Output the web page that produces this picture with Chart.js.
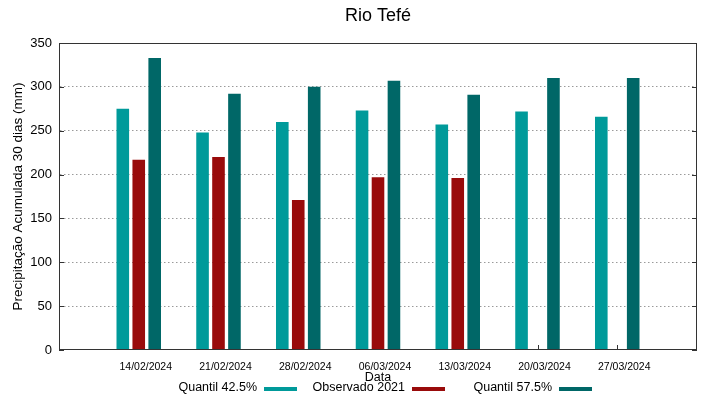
<!DOCTYPE html>
<html lang="pt">
<head>
    <meta charset="UTF-8">
    <title>Rio Tefé</title>
    <script src="https://cdn.jsdelivr.net/npm/chart.js"></script>
    <style>
        html, body { margin: 0; padding: 0; background: #fff; }
        #wrap { width: 719px; height: 399px; }
    </style>
</head>
<body>
<div id="wrap"><canvas id="rioChart" width="719" height="399"></canvas></div>
<script>
    // dados
    const dates = ["14/02/2024", "21/02/2024", "28/02/2024", "06/03/2024", "13/03/2024", "20/03/2024", "27/03/2024"];
    const quantil425 = [275, 248, 260, 273, 257, 272, 266];
    const observado2021 = [217, 220, 171, 197, 196, null, null];
    const quantil575 = [333, 292, 300, 307, 291, 310, 310];
    const yTicks = [0, 50, 100, 150, 200, 250, 300, 350];

    const seriesNames = ["Quantil 42.5%", "Observado 2021", "Quantil 57.5%"];
    const colors = ["#009a9a", "#990b0b", "#006767"];
    const FONT = "'Liberation Sans', Arial, sans-serif";

    // one empty slot on each side, like gnuplot's x range
    const pad = arr => [null, ...arr, null];
    const labels = ["", ...dates, ""];

    const extras = {
        id: "extras",
        beforeDatasetsDraw(chart) {
            // inward ticks, under the bars
            const ctx = chart.ctx;
            const a = chart.chartArea;
            const xs = chart.scales.x, ys = chart.scales.y;
            ctx.save();
            ctx.strokeStyle = "#333";
            ctx.lineWidth = 1;
            ctx.beginPath();
            yTicks.forEach(v => {
                const y = Math.round(ys.getPixelForValue(v)) + 0.5;
                ctx.moveTo(a.left, y); ctx.lineTo(a.left + 5, y);
                ctx.moveTo(a.right, y); ctx.lineTo(a.right - 5, y);
            });
            dates.forEach((d, i) => {
                const x = Math.round(xs.getPixelForValue(i + 1)) + 0.5;
                ctx.moveTo(x, a.bottom); ctx.lineTo(x, a.bottom - 5);
            });
            ctx.stroke();
            ctx.restore();
        },
        afterDraw(chart) {
            const ctx = chart.ctx;
            const a = chart.chartArea;
            ctx.save();

            // frame
            ctx.strokeStyle = "#333";
            ctx.lineWidth = 1;
            ctx.strokeRect(a.left + 0.5, a.top + 0.5, a.right - a.left - 1, a.bottom - a.top - 1);

            ctx.fillStyle = "#000";
            ctx.textAlign = "center";
            ctx.textBaseline = "middle";

            // title
            ctx.font = "18px " + FONT;
            ctx.fillText("Rio Tefé", (a.left + a.right) / 2, 16);

            // x title
            ctx.font = "12.5px " + FONT;
            ctx.fillText("Data", (a.left + a.right) / 2, 378);

            // y title
            ctx.save();
            ctx.translate(18, (a.top + a.bottom) / 2);
            ctx.rotate(-Math.PI / 2);
            ctx.font = "13.5px " + FONT;
            ctx.fillText("Precipitação Acumulada 30 dias (mm)", 0, 0);
            ctx.restore();

            // legend (text then swatch)
            const swX = [264, 412, 559];
            ctx.font = "12.5px " + FONT;
            ctx.textAlign = "right";
            seriesNames.forEach((name, i) => {
                ctx.fillStyle = "#000";
                ctx.fillText(name, swX[i] - 7, 388);
                ctx.fillStyle = colors[i];
                ctx.fillRect(swX[i], 387, 33, 4);
            });
            ctx.restore();
        }
    };

    const dsBase = { categoryPercentage: 0.6, barPercentage: 0.79, borderWidth: 0 };

    new Chart(document.getElementById("rioChart"), {
        type: "bar",
        data: {
            labels: labels,
            datasets: [
                { ...dsBase, label: seriesNames[0], data: pad(quantil425), backgroundColor: colors[0] },
                { ...dsBase, label: seriesNames[1], data: pad(observado2021), backgroundColor: colors[1] },
                { ...dsBase, label: seriesNames[2], data: pad(quantil575), backgroundColor: colors[2] }
            ]
        },
        options: {
            responsive: false,
            animation: false,
            devicePixelRatio: 1,
            layout: { padding: { top: 43, right: 22, left: 0, bottom: 0 } },
            plugins: {
                legend: { display: false },
                title: { display: false },
                tooltip: { enabled: false }
            },
            scales: {
                x: {
                    offset: false,
                    grid: { display: false, drawTicks: false },
                    border: { display: false },
                    ticks: {
                        autoSkip: false,
                        maxRotation: 0,
                        labelOffset: 7,
                        padding: 11,
                        color: "#000",
                        font: { family: FONT, size: 10.5 }
                    },
                    afterFit(scale) { scale.height = 49; }
                },
                y: {
                    min: 0,
                    max: 350,
                    afterBuildTicks(scale) { scale.ticks = yTicks.map(v => ({ value: v })); },
                    grid: {
                        drawTicks: false,
                        color: ctx => (ctx.tick && (ctx.tick.value === 0 || ctx.tick.value === 350)) ? "rgba(0,0,0,0)" : "#9a9a9a",
                        lineWidth: 1
                    },
                    border: { display: true, color: "rgba(0,0,0,0)", dash: [1.5, 2.5] },
                    ticks: {
                        padding: 7,
                        color: "#000",
                        font: { family: FONT, size: 13 }
                    },
                    afterFit(scale) { scale.width = 59; }
                }
            }
        },
        plugins: [extras]
    });
</script>
</body>
</html>
